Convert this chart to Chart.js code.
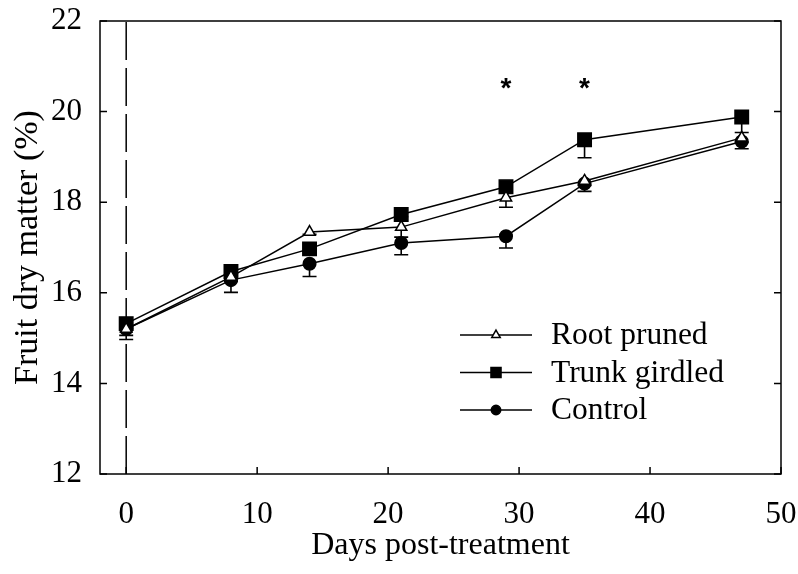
<!DOCTYPE html>
<html>
<head>
<meta charset="utf-8">
<script src="https://cdn.jsdelivr.net/npm/chart.js@4.4.0/dist/chart.umd.min.js"></script>
<style>
  html, body { margin: 0; padding: 0; background: #fff; }
  #wrap { width: 798px; height: 574px; }
</style>
</head>
<body>
<div id="wrap"><canvas id="fdm"></canvas></div>
<script>
// days after treatment
const days = [0, 8, 14, 21, 29, 35, 47];

// fruit dry matter (%)
const rootPruned   = [15.20, 16.35, 17.34, 17.45, 18.10, 18.47, 19.42];
const trunkGirdled = [15.32, 16.47, 16.97, 17.73, 18.34, 19.38, 19.88];
const control      = [15.20, 16.28, 16.64, 17.10, 17.25, 18.41, 19.34];

// standard errors (drawn downward only)
const rootPrunedErr   = [0.14, 0.10, 0.05, 0.22, 0.21, 0.10, 0.10];
const trunkGirdledErr = [0.10, 0.10, 0.05, 0.05, 0.05, 0.40, 0.34];
const controlErr      = [0.23, 0.27, 0.28, 0.26, 0.26, 0.17, 0.16];

// significant differences
const starDays = [29, 35];
const starLevel = 20.62;

const treatmentDay = 0;
const xTicks = [0, 10, 20, 30, 40, 50];
const yTicks = [12, 14, 16, 18, 20, 22];

const toXY = (ys) => days.map((d, i) => ({ x: d, y: ys[i] }));
const serif = "'Liberation Serif', 'Times New Roman', serif";

const series = [
  { label: 'Root pruned', data: rootPruned, err: rootPrunedErr, style: 'triangle', fill: '#fff', r: 6.5 },
  { label: 'Trunk girdled', data: trunkGirdled, err: trunkGirdledErr, style: 'rect', fill: '#000', r: 9.5 },
  { label: 'Control', data: control, err: controlErr, style: 'circle', fill: '#000', r: 6.3 }
];

const errorBars = {
  id: 'errorBars',
  beforeDatasetsDraw(chart) {
    const { ctx, scales: { x, y } } = chart;
    ctx.save();
    ctx.strokeStyle = '#000';
    ctx.lineWidth = 1.6;
    series.forEach(s => {
      days.forEach((d, i) => {
        const px = x.getPixelForValue(d);
        const y0 = y.getPixelForValue(s.data[i]);
        const y1 = y.getPixelForValue(s.data[i] - s.err[i]);
        ctx.beginPath();
        ctx.moveTo(px, y0);
        ctx.lineTo(px, y1);
        ctx.moveTo(px - 7, y1);
        ctx.lineTo(px + 7, y1);
        ctx.stroke();
      });
    });
    ctx.restore();
  }
};

function marker(ctx, style, cx, cy, r, fill) {
  ctx.beginPath();
  if (style === 'circle') {
    ctx.arc(cx, cy, r, 0, Math.PI * 2);
  } else if (style === 'rect') {
    const h = r * Math.SQRT1_2;
    ctx.rect(cx - h, cy - h, 2 * h, 2 * h);
  } else {
    ctx.moveTo(cx, cy - r);
    ctx.lineTo(cx + r * 0.866, cy + r * 0.5);
    ctx.lineTo(cx - r * 0.866, cy + r * 0.5);
    ctx.closePath();
  }
  ctx.fillStyle = fill;
  ctx.fill();
  ctx.stroke();
}

const frameAndLegend = {
  id: 'frameAndLegend',
  afterDraw(chart) {
    const { ctx, chartArea: a, scales: { x, y } } = chart;
    ctx.save();
    ctx.strokeStyle = '#000';
    ctx.lineWidth = 1.5;
    ctx.strokeRect(a.left, a.top, a.right - a.left, a.bottom - a.top);

    // inward ticks
    ctx.beginPath();
    xTicks.forEach(v => {
      const px = x.getPixelForValue(v);
      ctx.moveTo(px, a.bottom);
      ctx.lineTo(px, a.bottom - 7);
    });
    yTicks.forEach(v => {
      const py = y.getPixelForValue(v);
      ctx.moveTo(a.left, py);
      ctx.lineTo(a.left + 7, py);
      ctx.moveTo(a.right, py);
      ctx.lineTo(a.right - 7, py);
    });
    ctx.stroke();

    // asterisks
    ctx.fillStyle = '#000';
    ctx.font = "bold 28px 'Liberation Sans', Arial, sans-serif";
    ctx.textAlign = 'center';
    ctx.textBaseline = 'middle';
    starDays.forEach(d => {
      ctx.fillText('*', x.getPixelForValue(d), y.getPixelForValue(starLevel) + 6);
    });

    // legend
    ctx.font = '31.5px ' + serif;
    ctx.textAlign = 'left';
    ctx.lineWidth = 1.5;
    series.forEach((s, i) => {
      const ly = 335 + i * 37.5;
      ctx.beginPath();
      ctx.moveTo(460, ly);
      ctx.lineTo(532, ly);
      ctx.stroke();
      marker(ctx, s.style, 496, ly, s.r * 0.75, s.fill);
      ctx.fillStyle = '#000';
      ctx.fillText(s.label, 551, ly + 1);
    });
    ctx.restore();
  }
};

const datasets = series.map(s => ({
  label: s.label,
  data: toXY(s.data),
  showLine: true,
  borderColor: '#000',
  borderWidth: 1.5,
  pointStyle: s.style,
  pointRadius: s.r,
  pointBackgroundColor: s.fill,
  pointBorderColor: '#000',
  pointBorderWidth: 1.5
}));

datasets.push({
  label: 'treatment',
  data: [{ x: treatmentDay, y: yTicks[0] }, { x: treatmentDay, y: yTicks[yTicks.length - 1] }],
  showLine: true,
  borderColor: '#000',
  borderWidth: 1.5,
  borderDash: [38, 8],
  pointRadius: 0
});

new Chart(document.getElementById('fdm'), {
  type: 'scatter',
  data: { datasets },
  plugins: [errorBars, frameAndLegend],
  options: {
    responsive: true,
    maintainAspectRatio: false,
    animation: false,
    layout: { padding: { top: 21, right: 17, bottom: 0, left: 0 } },
    plugins: { legend: { display: false }, tooltip: { enabled: false } },
    scales: {
      x: {
        type: 'linear',
        min: -2,
        max: 50,
        afterFit: s => { s.height = 100; s.paddingLeft = 0; s.paddingRight = 0; },
        grid: { display: false, drawTicks: false },
        border: { display: false },
        ticks: { stepSize: 10, includeBounds: false, padding: 22, color: '#000', font: { family: serif, size: 31 } },
        title: { display: true, text: 'Days post-treatment', color: '#000', font: { family: serif, size: 32 }, padding: { bottom: 9 } }
      },
      y: {
        min: 12,
        max: 22,
        afterFit: s => { s.width = 100; s.paddingTop = 0; s.paddingBottom = 0; },
        grid: { display: false, drawTicks: false },
        border: { display: false },
        ticks: { stepSize: 2, padding: 18, color: '#000', font: { family: serif, size: 31 } },
        title: { display: true, text: 'Fruit dry matter (%)', color: '#000', font: { family: serif, size: 34 }, padding: { top: 8 } }
      }
    }
  }
});
</script>
</body>
</html>
